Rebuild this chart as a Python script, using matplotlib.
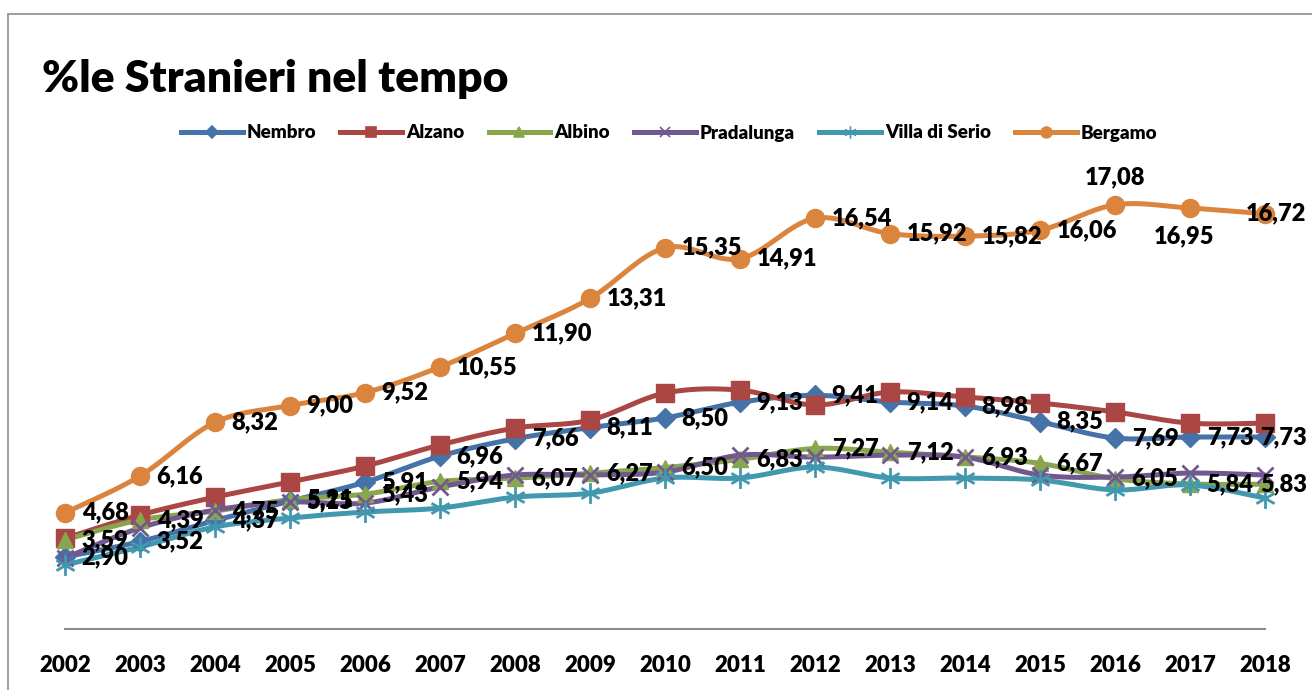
import numpy as np
import matplotlib
matplotlib.use("Agg")
import matplotlib.pyplot as plt
from matplotlib.path import Path
from matplotlib.patches import Rectangle

plt.rcParams['font.family'] = ['Lato', 'DejaVu Sans']

anni = list(range(2002, 2019))

nembro = [2.90, 3.52, 4.37, 5.15, 5.91, 6.96, 7.66, 8.11, 8.50, 9.13, 9.41, 9.14, 8.98, 8.35, 7.69, 7.73, 7.73]
alzano = [3.65, 4.59, 5.31, 5.92, 6.56, 7.41, 8.09, 8.41, 9.50, 9.62, 9.02, 9.54, 9.34, 9.10, 8.74, 8.29, 8.29]
albino = [3.59, 4.39, 4.75, 5.21, 5.43, 5.94, 6.07, 6.27, 6.50, 6.83, 7.27, 7.12, 6.93, 6.67, 6.05, 5.84, 5.83]
pradalunga = [2.86, 4.07, 4.79, 5.11, 5.07, 5.72, 6.20, 6.20, 6.32, 7.00, 6.92, 7.00, 6.92, 6.20, 6.12, 6.28, 6.20]
villa = [2.58, 3.30, 4.11, 4.47, 4.71, 4.87, 5.31, 5.47, 6.08, 6.08, 6.52, 6.08, 6.08, 6.00, 5.60, 5.80, 5.27]
bergamo = [4.68, 6.16, 8.32, 9.00, 9.52, 10.55, 11.90, 13.31, 15.35, 14.91, 16.54, 15.92, 15.82, 16.06, 17.08, 16.95, 16.72]

# asterisco stile Excel
star = Path([(0, -1), (0, 1), (-0.87, -0.5), (0.87, 0.5), (-0.87, 0.5), (0.87, -0.5)],
            [Path.MOVETO, Path.LINETO, Path.MOVETO, Path.LINETO, Path.MOVETO, Path.LINETO])

serie = [
    ('Nembro', nembro, '#4572A7', 'D', 10, True),
    ('Alzano', alzano, '#AA4643', 's', 13, False),
    ('Albino', albino, '#89A54E', '^', 12, True),
    ('Pradalunga', pradalunga, '#71588F', 'x', 12, False),
    ('Villa di Serio', villa, '#4198AF', star, 15, False),
    ('Bergamo', bergamo, '#DB843D', 'o', 13, True),
]


def smooth(x, y, n=20):
    # curva tipo Catmull-Rom come le linee smussate di Excel
    x = np.asarray(x, float)
    y = np.asarray(y, float)
    px = np.concatenate([[x[0]], x, [x[-1]]])
    py = np.concatenate([[y[0]], y, [y[-1]]])
    xs, ys = [], []
    for i in range(1, len(px) - 2):
        p0, p1, p2, p3 = px[i - 1], px[i], px[i + 1], px[i + 2]
        q0, q1, q2, q3 = py[i - 1], py[i], py[i + 1], py[i + 2]
        c1x, c1y = p1 + (p2 - p0) / 6, q1 + (q2 - q0) / 6
        c2x, c2y = p2 - (p3 - p1) / 6, q2 - (q3 - q1) / 6
        t = np.linspace(0, 1, n)
        b0, b1, b2, b3 = (1 - t) ** 3, 3 * t * (1 - t) ** 2, 3 * t ** 2 * (1 - t), t ** 3
        xs.append(b0 * p1 + b1 * c1x + b2 * c2x + b3 * p2)
        ys.append(b0 * q1 + b1 * c1y + b2 * c2y + b3 * q2)
    return np.concatenate(xs), np.concatenate(ys)


fig = plt.figure(figsize=(13.12, 6.9), dpi=100)
ax = fig.add_axes([65 / 1312, 61 / 690, 1200 / 1312, 447 / 690])

# cornice del grafico
fig.patches.append(Rectangle((8 / 1312, -0.1), 1.2, 1 - 14 / 690 + 0.1, transform=fig.transFigure,
                             fill=False, edgecolor='#8c8c8c', linewidth=1.2))

handles = []
for nome, vals, col, mk, ms, lab in serie:
    sx, sy = smooth(anni, vals)
    ax.plot(sx, sy, color=col, linewidth=3.6, solid_capstyle='round', zorder=2, clip_on=False)
    mew = 2.0 if mk in ('x',) or mk is star else 1
    ax.plot(anni, vals, linestyle='none', marker=mk, markersize=ms, color=col,
            markeredgecolor=col, markeredgewidth=mew, zorder=3, clip_on=False)
    h, = ax.plot([], [], color=col, linewidth=3.6, marker=mk, markersize=ms * 0.6,
                 markeredgewidth=1.2, markeredgecolor=col)
    handles.append((h, nome))
    if lab:
        for i, (a, v) in enumerate(zip(anni, vals)):
            testo = f'{v:.2f}'.replace('.', ',')
            off, ha, va = (12, 0), 'left', 'center'
            if nome == 'Bergamo' and a == 2016:
                off, ha, va = (0, 20), 'center', 'center'
            elif nome == 'Bergamo' and a == 2017:
                off, ha, va = (-4, -20), 'center', 'center'
            elif a == 2018:
                off, ha = (30, 0), 'right'
            ax.annotate(testo, (a, v), xytext=off, textcoords='offset points', ha=ha, va=va,
                        fontsize=17, fontweight='heavy', color='black', zorder=5,
                        annotation_clip=False)

ax.set_xlim(2002, 2018)
ax.set_ylim(0, 18)
ax.set_yticks([])
ax.set_xticks(anni)
ax.set_xticklabels([str(a) for a in anni], fontsize=16, fontweight='heavy')
ax.tick_params(axis='x', length=0, pad=19)
for s in ('top', 'right', 'left'):
    ax.spines[s].set_visible(False)
ax.spines['bottom'].set_color('#8c8c8c')
ax.spines['bottom'].set_linewidth(1.5)
ax.patch.set_alpha(0)

fig.text(42 / 1312, 1 - 92 / 690, '%le Stranieri nel tempo', fontsize=32, fontweight='heavy',
         ha='left', va='baseline')

fig.legend([h for h, _ in handles], [n for _, n in handles], loc='center',
           bbox_to_anchor=(0.51, 1 - 133 / 690), ncol=6, frameon=False, handlelength=3.3,
           columnspacing=1.3, handletextpad=0.2, prop={'weight': 'heavy', 'size': 13.5})

fig.savefig('out.png', dpi=100)
